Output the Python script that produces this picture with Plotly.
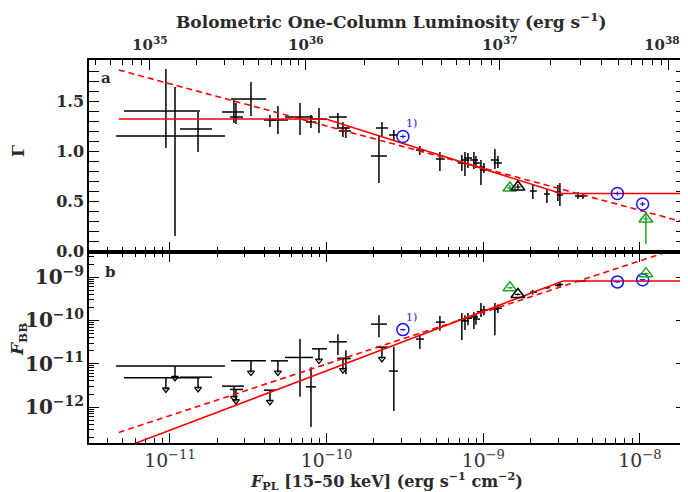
import numpy as np
import plotly.graph_objects as go

# ---------------- data (log10 of fluxes, erg s^-1 cm^-2) ----------------
log_fpl = [-11.026, -10.968, -10.821, -10.592, -10.579, -10.483, -10.362, -10.311,
           -10.170, -10.100, -10.049, -9.928, -9.896, -9.877, -9.666, -9.647,
           -9.571, -9.405, -9.277, -9.137, -9.117, -9.098, -9.060, -9.047,
           -9.015, -8.996, -8.926, -8.907, -8.684, -8.594, -8.524, -8.511,
           -8.396, -8.364]
log_fpl_lo = [-11.294, -11.345, -10.936, -10.668, -10.617, -10.611, -10.400, -10.356,
              -10.266, -10.132, -10.094, -9.985, -9.934, -9.922, -9.717, -9.685,
              -9.602, -9.430, -9.303, -9.163, -9.143, -9.124, -9.086, -9.066,
              -9.041, -9.022, -8.952, -8.933, -8.703, -8.613, -8.543, -8.530,
              -8.415, -8.383]
log_fpl_hi = [-10.809, -10.649, -10.732, -10.528, -10.534, -10.387, -10.324, -10.247,
              -10.087, -10.068, -9.998, -9.871, -9.851, -9.845, -9.615, -9.609,
              -9.545, -9.379, -9.245, -9.111, -9.091, -9.072, -9.034, -9.021,
              -8.989, -8.970, -8.900, -8.881, -8.658, -8.575, -8.505, -8.492,
              -8.377, -8.345]
gamma = [1.40, 1.15, 1.22, 1.39, 1.34, 1.52, 1.31, 1.31, 1.34, 1.29, 1.32, 1.34,
         1.23, 1.20, 0.95, 1.23, 1.16, 1.01, 0.92, 0.88, 0.91, 0.93, 0.91, 0.88,
         0.84, 0.81, 0.91, 0.88, 0.60, 0.57, 0.59, 0.56, 0.55, 0.55]
gamma_hi = [1.82, 1.64, 1.39, 1.51, 1.48, 1.69, 1.36, 1.45, 1.48, 1.36, 1.43, 1.38,
            1.29, 1.24, 1.15, 1.29, 1.21, 1.05, 0.99, 0.96, 0.99, 0.98, 0.99, 0.95,
            0.91, 0.88, 1.02, 0.95, 0.67, 0.62, 0.66, 0.68, 0.59, 0.58]
gamma_lo = [1.03, 0.15, 0.99, 1.28, 1.27, 1.35, 1.24, 1.17, 1.16, 1.23, 1.18, 1.24,
            1.14, 1.13, 0.68, 1.14, 1.10, 0.96, 0.80, 0.80, 0.75, 0.83, 0.82, 0.83,
            0.66, 0.78, 0.82, 0.83, 0.52, 0.48, 0.50, 0.45, 0.52, 0.52]
log_fbb = [-11.325, -11.055, -11.31, -11.517, -11.594, -10.933, -11.61, -10.933,
           -10.855, -11.533, -10.656, -10.494, -10.878, -10.878, -10.085, -10.617,
           -11.17, -10.43, -10.04, -9.99, -10.01, -9.95, -9.92, -9.97,
           -9.80, -9.76, -9.74, -9.72, -9.35, -9.245, -9.19, -9.17, -9.10, -9.09]
log_fbb_hi = [None, None, None, None, None, None, None, None,
              -10.43, -11.08, None, -10.32, None, -10.686, -9.88, None,
              -10.61, -10.32, -9.90, -9.83, -9.88, -9.83, -9.81, -9.85,
              -9.60, -9.66, -9.60, -9.63, -9.30, -9.22, -9.16, -9.13, -9.085, -9.075]
log_fbb_lo = [None, None, None, None, None, None, None, None,
              -11.76, -12.46, None, -10.80, None, -11.24, -10.386, None,
              -12.09, -10.66, -10.24, -10.45, -10.22, -10.11, -10.20, -10.10,
              -9.92, -9.88, -10.34, -9.83, -9.40, -9.27, -9.22, -9.21, -9.115, -9.105]

# special observations
blue_log_fpl = [-9.513, -8.144, -7.983]
blue_gamma = [1.145, 0.575, 0.47]
blue_log_fbb = [-10.212, -9.11, -9.06]
green_log_fpl = [-8.830, -7.962]
green_gamma = [0.63, 0.32]
green_gamma_up = [0.03, 0.07]
green_gamma_dn = [0.03, 0.25]
green_log_fbb = [-9.245, -8.92]
black_tri_log_fpl = [-8.779]
black_tri_gamma = [0.64]
black_tri_log_fbb = [-9.40]

# model curves
solid_g_logf = [-11.327, -10.004, -8.505, -7.70]
solid_g_val = [1.32, 1.32, 0.575, 0.575]
dash_g_logf = [-11.327, -7.706]
dash_g_val = [1.81, 0.283]
solid_b_logf = [-11.33, -8.492, -7.70]
solid_b_val = [-12.987, -9.09, -9.09]
dash_b_logf = [-11.327, -7.706]
dash_b_val = [-12.586, -8.273]

# top axis: bolometric luminosity decades and where they fall in flux
lum_decades = [34, 35, 36, 37, 38]
lum_decade_logf = [-12.277, -11.128, -10.132, -8.894, -7.815]
lum_major = [35, 36, 37, 38]

# ---------------- helpers ----------------
P = lambda a: np.power(10.0, np.array(a, dtype=float))


def lum_to_f(logl):
    return 10 ** np.interp(logl, lum_decades, lum_decade_logf)


BLACK = "black"
TXT = "#2a2a2a"
RED = "#ff0000"
BLUE = "#1515ff"
GREEN = "#1fa51f"
FONT = "DejaVu Serif"
X_RANGE = [-11.517, -7.706]

# page has an 8px body margin; the figure is laid out to land on the same pixels
W, H = 680, 484
ML, MT, MR, MB = 81, 52, 2, 49
PW = W - ML - MR
PH = H - MT - MB
OFF = 8  # page offset


def px(xp):  # page x pixel -> paper x
    return (xp - OFF - ML) / PW


def py(yp):  # page y pixel -> paper y
    return (H - MB - (yp - OFF)) / PH


fig = go.Figure()

x = P(log_fpl)
xlo = P(log_fpl_lo)
xhi = P(log_fpl_hi)
g = np.array(gamma)
ex = dict(type="data", symmetric=False, array=xhi - x, arrayminus=x - xlo,
          color=BLACK, thickness=1.5, width=0)

# ---- top panel: photon index ----
fig.add_trace(go.Scatter(
    x=x, y=g, mode="markers", marker=dict(size=1, color="rgba(0,0,0,0)"),
    error_x=ex,
    error_y=dict(type="data", symmetric=False, array=np.array(gamma_hi) - g,
                 arrayminus=g - np.array(gamma_lo), color=BLACK, thickness=1.5, width=0),
    xaxis="x2", yaxis="y2", showlegend=False, hoverinfo="skip"))

fig.add_trace(go.Scatter(x=P(solid_g_logf), y=solid_g_val, mode="lines",
                         line=dict(color=RED, width=1.6), xaxis="x2", yaxis="y2",
                         showlegend=False, hoverinfo="skip"))
fig.add_trace(go.Scatter(x=P(dash_g_logf), y=dash_g_val, mode="lines",
                         line=dict(color=RED, width=1.6, dash="6px,4px"), xaxis="x2",
                         yaxis="y2", showlegend=False, hoverinfo="skip"))

fig.add_trace(go.Scatter(
    x=P(blue_log_fpl), y=blue_gamma, mode="markers",
    marker=dict(symbol="circle-open", size=12, color=BLUE, line=dict(width=1.5)),
    error_y=dict(type="data", array=[0.02] * 3, color=BLUE, thickness=1.2, width=0),
    error_x=dict(type="percent", value=4, color=BLUE, thickness=1.2, width=0),
    xaxis="x2", yaxis="y2", showlegend=False, hoverinfo="skip"))
fig.add_trace(go.Scatter(
    x=P(green_log_fpl), y=green_gamma, mode="markers",
    marker=dict(symbol="triangle-up-open", size=12, color=GREEN, line=dict(width=1.5)),
    error_y=dict(type="data", symmetric=False, array=green_gamma_up,
                 arrayminus=green_gamma_dn, color=GREEN, thickness=1.5, width=0),
    error_x=dict(type="percent", value=4, color=GREEN, thickness=1.2, width=0),
    xaxis="x2", yaxis="y2", showlegend=False, hoverinfo="skip"))
fig.add_trace(go.Scatter(
    x=P(black_tri_log_fpl), y=black_tri_gamma, mode="markers",
    marker=dict(symbol="triangle-up-open", size=12, color=BLACK, line=dict(width=1.5)),
    error_y=dict(type="data", array=[0.03], color=BLACK, thickness=1.2, width=0),
    error_x=dict(type="percent", value=4, color=BLACK, thickness=1.2, width=0),
    xaxis="x2", yaxis="y2", showlegend=False, hoverinfo="skip"))

# ---- bottom panel: blackbody flux ----
det = [i for i, v in enumerate(log_fbb_hi) if v is not None]
lim = [i for i, v in enumerate(log_fbb_hi) if v is None]

xd = x[det]
yd = P([log_fbb[i] for i in det])
yd_hi = P([log_fbb_hi[i] for i in det])
yd_lo = P([log_fbb_lo[i] for i in det])
fig.add_trace(go.Scatter(
    x=xd, y=yd, mode="markers", marker=dict(size=1, color="rgba(0,0,0,0)"),
    error_x=dict(type="data", symmetric=False, array=xhi[det] - xd,
                 arrayminus=xd - xlo[det], color=BLACK, thickness=1.5, width=0),
    error_y=dict(type="data", symmetric=False, array=yd_hi - yd, arrayminus=yd - yd_lo,
                 color=BLACK, thickness=1.5, width=0),
    xaxis="x", yaxis="y", showlegend=False, hoverinfo="skip"))

ARROW_DEX = 0.27
xl = x[lim]
yl = P([log_fbb[i] for i in lim])
ytip = yl * 10 ** (-ARROW_DEX)
fig.add_trace(go.Scatter(
    x=xl, y=yl, mode="markers", marker=dict(size=1, color="rgba(0,0,0,0)"),
    error_x=dict(type="data", symmetric=False, array=xhi[lim] - xl,
                 arrayminus=xl - xlo[lim], color=BLACK, thickness=1.5, width=0),
    error_y=dict(type="data", symmetric=False, array=[0] * len(lim), arrayminus=yl - ytip,
                 color=BLACK, thickness=1.5, width=0),
    xaxis="x", yaxis="y", showlegend=False, hoverinfo="skip"))
fig.add_trace(go.Scatter(
    x=xl, y=ytip, mode="markers",
    marker=dict(symbol="triangle-down-open", size=6, color=BLACK, line=dict(width=1.3)),
    xaxis="x", yaxis="y", showlegend=False, hoverinfo="skip"))

fig.add_trace(go.Scatter(x=P(solid_b_logf), y=P(solid_b_val), mode="lines",
                         line=dict(color=RED, width=1.6), xaxis="x", yaxis="y",
                         showlegend=False, hoverinfo="skip"))
fig.add_trace(go.Scatter(x=P(dash_b_logf), y=P(dash_b_val), mode="lines",
                         line=dict(color=RED, width=1.6, dash="6px,4px"), xaxis="x",
                         yaxis="y", showlegend=False, hoverinfo="skip"))

fig.add_trace(go.Scatter(
    x=P(blue_log_fpl), y=P(blue_log_fbb), mode="markers",
    marker=dict(symbol="circle-open", size=12, color=BLUE, line=dict(width=1.5)),
    error_y=dict(type="percent", value=5, color=BLUE, thickness=1.2, width=0),
    error_x=dict(type="percent", value=4, color=BLUE, thickness=1.2, width=0),
    xaxis="x", yaxis="y", showlegend=False, hoverinfo="skip"))
fig.add_trace(go.Scatter(
    x=P(green_log_fpl), y=P(green_log_fbb), mode="markers",
    marker=dict(symbol="triangle-up-open", size=12, color=GREEN, line=dict(width=1.5)),
    error_y=dict(type="percent", value=6, color=GREEN, thickness=1.2, width=0),
    error_x=dict(type="percent", value=4, color=GREEN, thickness=1.2, width=0),
    xaxis="x", yaxis="y", showlegend=False, hoverinfo="skip"))
fig.add_trace(go.Scatter(
    x=P(black_tri_log_fpl), y=P(black_tri_log_fbb), mode="markers",
    marker=dict(symbol="triangle-up-open", size=12, color=BLACK, line=dict(width=1.5)),
    error_y=dict(type="percent", value=6, color=BLACK, thickness=1.2, width=0),
    error_x=dict(type="percent", value=4, color=BLACK, thickness=1.2, width=0),
    xaxis="x", yaxis="y", showlegend=False, hoverinfo="skip"))

# invisible anchors for the luminosity axes
for ax in ("x3", "x4"):
    fig.add_trace(go.Scatter(x=[1e-10], y=[0.5], mode="markers",
                             marker=dict(size=1, color="rgba(0,0,0,0)"),
                             xaxis=ax, yaxis="y2", showlegend=False, hoverinfo="skip"))

# luminosity tick positions
lum_major_vals = lum_to_f(np.array(lum_major, dtype=float))
lum_major_text = ["10<sup>%d</sup>" % d for d in lum_major]
lum_minor_vals = []
for d in lum_decades[:-1]:
    for k in range(2, 10):
        lv = d + np.log10(k)
        fv = lum_to_f(lv)
        if X_RANGE[0] < np.log10(fv) < X_RANGE[1]:
            lum_minor_vals.append(float(fv))

axis_common = dict(showline=True, linecolor=BLACK, linewidth=1.5, ticks="inside",
                   tickcolor=BLACK, tickwidth=1.3, showgrid=False, zeroline=False)
tickfont_b = dict(family=FONT, size=16, color=TXT, weight="bold")
tickfont_top = dict(family=FONT, size=15, color=TXT, weight="bold")
tickfont_x = dict(family=FONT, size=15, color="#333")

dom_split = 191 / 383
fig.update_layout(
    width=W, height=H,
    margin=dict(l=ML, r=MR, t=MT, b=MB, autoexpand=False),
    paper_bgcolor="white", plot_bgcolor="white",
    font=dict(family=FONT, color=TXT),
    xaxis=dict(type="log", range=X_RANGE, domain=[0, 1], anchor="y",
               mirror="allticks", ticklen=10, dtick=1, exponentformat="power",
               tickfont=tickfont_x, automargin=False,
               minor=dict(ticks="inside", ticklen=5, dtick="D1", tickcolor=BLACK,
                          tickwidth=1.2),
               **axis_common),
    yaxis=dict(type="log", range=[-12.83, -8.42], domain=[0, dom_split], anchor="x",
               mirror="allticks", ticklen=10, dtick=1, exponentformat="power",
               tickfont=tickfont_b, automargin=False,
               minor=dict(ticks="inside", ticklen=5, dtick="D1", tickcolor=BLACK,
                          tickwidth=1.2),
               **axis_common),
    xaxis2=dict(type="log", range=X_RANGE, domain=[0, 1], anchor="y2", mirror=True,
                ticklen=10, dtick=1, showticklabels=False, automargin=False,
                minor=dict(ticks="inside", ticklen=5, dtick="D1", tickcolor=BLACK,
                           tickwidth=1.2),
                **axis_common),
    yaxis2=dict(range=[-0.01, 1.91], domain=[dom_split, 1], anchor="x2",
                mirror="allticks", ticklen=10, dtick=0.5, tick0=0, tickformat=".1f",
                tickfont=tickfont_b, automargin=False,
                minor=dict(ticks="inside", ticklen=5, dtick=0.1, tickcolor=BLACK,
                           tickwidth=1.2),
                **axis_common),
    xaxis3=dict(type="log", range=X_RANGE, overlaying="x2", anchor="y2", side="top",
                tickmode="array", tickvals=lum_major_vals.tolist(),
                showticklabels=False, ticklen=10, automargin=False, **axis_common),
    xaxis4=dict(type="log", range=X_RANGE, overlaying="x2", anchor="y2", side="top",
                tickmode="array", tickvals=lum_minor_vals, showticklabels=False,
                ticklen=5, showline=False, ticks="inside", tickcolor=BLACK, tickwidth=1.2,
                showgrid=False, zeroline=False, automargin=False),
)

# luminosity tick labels (the last one is kept inside the page edge)
for i, (fv, txt) in enumerate(zip(lum_major_vals, lum_major_text)):
    xp = (np.log10(fv) - X_RANGE[0]) / (X_RANGE[1] - X_RANGE[0])
    last = i == len(lum_major_vals) - 1
    fig.add_annotation(text=txt, xref="paper", yref="paper",
                       x=px(682) if last else xp, y=py(44),
                       xanchor="right" if last else "center", yanchor="middle",
                       showarrow=False, font=tickfont_top)

ann_font = dict(family=FONT, size=17, color=TXT, weight="bold")
fig.add_annotation(text="Bolometric One-Column Luminosity (erg s<sup>−1</sup>)",
                   xref="paper", yref="paper", x=px(391), y=py(8),
                   showarrow=False, font=ann_font, xanchor="center", yanchor="top")
fig.add_annotation(text="<i>F</i><sub>PL</sub> [15–50 keV] (erg s<sup>−1</sup> cm<sup>−2</sup>)",
                   xref="paper", yref="paper", x=px(386), y=py(480.5),
                   showarrow=False, font=dict(family=FONT, size=16, color=TXT, weight="bold"),
                   xanchor="center", yanchor="middle")
fig.add_annotation(text="Γ", xref="paper", yref="paper", x=px(18),
                   y=py(151), showarrow=False, textangle=-90, font=ann_font,
                   xanchor="center", yanchor="middle")
fig.add_annotation(text="<i>F</i><sub>BB</sub>", xref="paper", yref="paper",
                   x=px(18), y=py(340), showarrow=False,
                   textangle=-90, font=ann_font, xanchor="center", yanchor="middle")
fig.add_annotation(text="a", xref="paper", yref="paper", x=px(106),
                   y=py(78), showarrow=False,
                   font=dict(family=FONT, size=15, color=TXT, weight="bold"),
                   xanchor="center", yanchor="middle")
fig.add_annotation(text="b", xref="paper", yref="paper", x=px(110),
                   y=py(272), showarrow=False,
                   font=dict(family=FONT, size=15, color=TXT, weight="bold"),
                   xanchor="center", yanchor="middle")
fig.add_annotation(text="1)", xref="x2", yref="y2", x=blue_log_fpl[0], y=blue_gamma[0],
                   xshift=9, yshift=13, showarrow=False,
                   font=dict(family=FONT, size=11, color=BLUE))
fig.add_annotation(text="1)", xref="x", yref="y", x=blue_log_fpl[0],
                   y=blue_log_fbb[0], xshift=9, yshift=12, showarrow=False,
                   font=dict(family=FONT, size=11, color=BLUE))

fig.write_html("out.html")
